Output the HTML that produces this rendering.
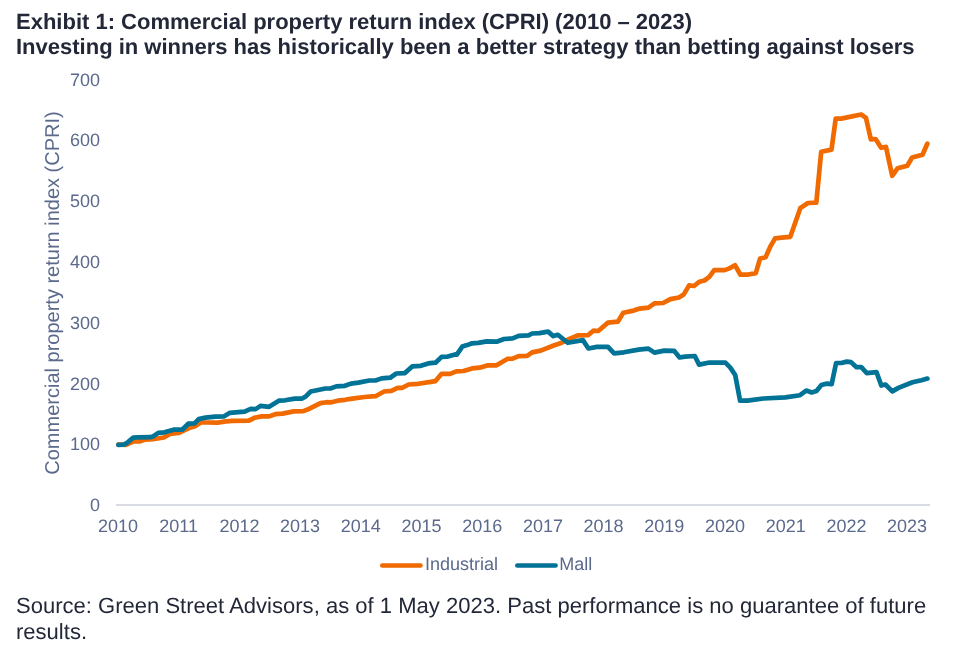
<!DOCTYPE html>
<html><head><meta charset="utf-8">
<style>
html,body{margin:0;padding:0;background:#fff;width:980px;height:653px;overflow:hidden;}
body{font-family:"Liberation Sans",sans-serif;position:relative;}
.t{position:absolute;white-space:nowrap;}
.title{left:16.1px;font-weight:bold;font-size:22px;color:#232838;}
.src{left:16.1px;font-size:22px;letter-spacing:0.017px;color:#232838;}
svg{position:absolute;left:0;top:0;}
svg{will-change:transform;}
.t{will-change:transform;}
html,body,svg,text{text-rendering:geometricPrecision;}
</style></head><body>
<div class="t title" style="top:9px">Exhibit 1: Commercial property return index (CPRI) (2010 – 2023)</div>
<div class="t title" style="top:34px">Investing in winners has historically been a better strategy than betting against losers</div>
<svg width="980" height="653" viewBox="0 0 980 653" font-family="Liberation Sans, sans-serif">
<g fill="#5b6a8c" font-size="18" text-anchor="end">
<text x="100" y="85.5">700</text>
<text x="100" y="146.3">600</text>
<text x="100" y="207.1">500</text>
<text x="100" y="267.9">400</text>
<text x="100" y="328.7">300</text>
<text x="100" y="389.5">200</text>
<text x="100" y="450.3">100</text>
<text x="100" y="511.1">0</text>
</g>
<line x1="116" y1="505" x2="930" y2="505" stroke="#d8dbe3" stroke-width="2"/>
<g fill="#5b6a8c" font-size="18" text-anchor="middle">
<text x="118" y="532">2010</text>
<text x="178.7" y="532">2011</text>
<text x="239.4" y="532">2012</text>
<text x="300.1" y="532">2013</text>
<text x="360.8" y="532">2014</text>
<text x="421.5" y="532">2015</text>
<text x="482.2" y="532">2016</text>
<text x="542.9" y="532">2017</text>
<text x="603.6" y="532">2018</text>
<text x="664.3" y="532">2019</text>
<text x="725" y="532">2020</text>
<text x="785.7" y="532">2021</text>
<text x="846.4" y="532">2022</text>
<text x="907.1" y="532">2023</text>
</g>
<text transform="translate(59.4,293) rotate(-90)" fill="#5b6a8c" font-size="20" text-anchor="middle">Commercial property return index (CPRI)</text>
<g id="lines" fill="none" stroke-width="4.7" stroke-linejoin="round" stroke-linecap="round">
<polyline stroke="#f06a00" points="118.4,444.5 125.9,444.8 133.3,441.5 139.4,441.5 145.5,439.6 152.8,439.2 159,438.2 163.9,437.5 170,433.9 178.5,433 184.7,430.2 190.8,427.4 195.7,425.9 200.6,422.5 206.7,422.5 217.7,422.7 223.8,421.6 232.3,420.8 248.9,420.7 254.4,417.8 261.7,416.4 269.1,416.4 275.2,414.2 282.6,413.6 293.6,411.4 303.4,411.1 309.5,408.7 320.5,403.1 326.6,402.2 331.5,402.3 337.7,400.7 345,399.8 352.2,398.6 364.5,397 375.5,396.2 384.1,391.5 391.4,390.9 397.6,387.8 402.4,387.8 408.6,384.5 418.4,383.8 435.5,381.1 441.6,373.8 450.2,373.8 456.3,371.3 463.6,371 472.1,368.4 479.5,367.7 488.1,365.3 496.6,365.3 507.7,358.8 512.6,358.6 518.7,356.1 527.2,355.9 532.1,352.4 540.7,350.6 553,345.7 560.3,343.3 565.2,340.8 570,338.6 578.3,335.3 588,335.2 593.6,330.7 598.2,331 608,322.6 617.8,321.7 623.3,312.8 633.7,310.6 639.8,308.6 648.4,307.7 654.5,303.3 663.1,303 670.4,299.1 679,297.5 683.6,294.6 689.1,285.4 694,286 699.5,281.7 704.4,280.5 709.3,276.8 714.2,270.1 724.6,270.1 728.9,268.6 735,265.2 740.5,274.7 747.2,274.7 755.8,273.1 760.1,258.5 765.6,257.2 770.5,246.2 775.1,238.4 781.8,237.7 790.3,236.8 800.4,208 807.9,203 816.3,202.7 821.2,151.7 831.5,149.6 835.7,118.6 841.2,118.6 861.2,114.5 866,117.9 870.8,139.3 875.6,139 881.1,147.8 886,146.9 892.2,175.8 897.7,168.2 907.3,165.7 912.1,157.5 922.5,154.7 927.3,143.7"/>
<polyline stroke="#007396" points="118.4,444.9 123.7,444.6 127.1,442.8 133.3,437.6 138.2,437.4 150.4,437.2 153.5,436.2 158.3,432.8 164.5,432.3 173.6,429.7 182.2,429.7 188.3,423.7 194.5,423.3 198.7,419.1 205.5,417.6 215.3,416.6 223.8,416.4 229.9,412.8 238.5,412.1 244.6,411.7 250.7,408.9 255.6,409.1 260.5,405.9 269.1,406.8 278.9,400.7 285,400.3 294.8,398.6 302.1,398.6 305.8,396.4 310.7,391.5 318.1,390 325.4,388.5 330.3,388.5 336.4,386.4 344.9,385.8 351,383.6 358.4,382.6 369.4,380.5 375.5,380.5 381.6,378.4 390.2,377.7 396.3,373.5 404.9,373.1 412.2,366.4 420.8,365.8 428.2,363.4 435.5,362.7 441.6,356.9 447.8,356.6 455.1,354.4 456.8,354.6 462.3,346.6 467.2,345.1 472.1,343.3 478.3,342.9 486.8,341.4 496.6,341.7 504,339 512.6,338.4 518.7,335.9 528.5,335.3 532.1,333.5 539.5,333.1 548.1,331.6 553.3,336.1 557.9,334.8 567.7,342.8 582.9,340.1 588.4,348.5 596.9,346.9 608,346.9 614.1,353.3 623.9,352.3 638.6,349.6 648.4,348.6 654.5,352.6 664.3,350.6 674.1,350.8 679.6,357.5 685,356.6 694.8,356 699.1,364.6 709.5,362.5 725.4,362.7 730.3,367.6 735.2,375 740.1,400.7 747.4,400.7 763.4,398.5 785.4,397.4 800,395.2 806.2,390.6 811.7,392.4 816.5,391 821.4,385.1 826.2,383.7 831.7,384.1 836.1,363 841.3,363 846.8,361.6 851,362.1 856.5,367.2 861.3,367.2 866.8,373.1 876.5,372.1 881.3,385.5 885.4,384.5 892.3,391.4 898.4,387.9 912.5,382.3 921.5,380.2 927.4,378.6"/>
</g>
<g stroke-linecap="round" stroke-width="4.5">
<line x1="382.3" y1="565.5" x2="420.5" y2="565.5" stroke="#f06a00"/>
<line x1="517.3" y1="565.5" x2="555.6" y2="565.5" stroke="#007396"/>
</g>
<g fill="#5b6a8c" font-size="18">
<text x="425" y="570">Industrial</text>
<text x="559.2" y="570">Mall</text>
</g>
</svg>
<div class="t src" style="top:593px">Source: Green Street Advisors, as of 1 May 2023. Past performance is no guarantee of future</div>
<div class="t src" style="top:619px">results.</div>
</body></html>
